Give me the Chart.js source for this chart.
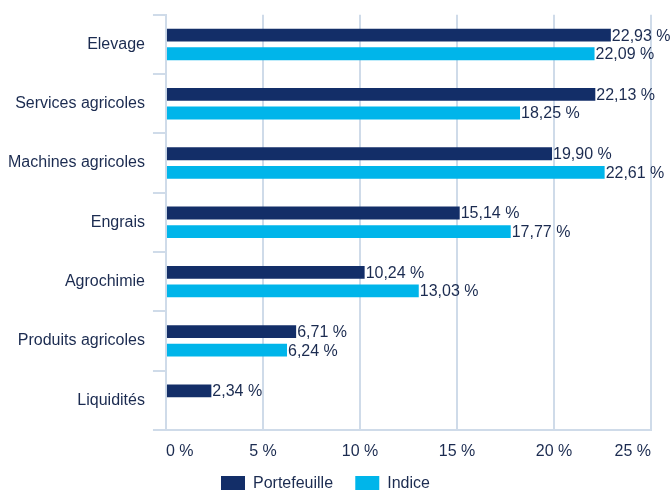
<!DOCTYPE html>
<html>
<head>
<meta charset="utf-8">
<script src="https://cdn.jsdelivr.net/npm/chart.js@4/dist/chart.umd.min.js"></script>
<style>
  html, body { margin: 0; padding: 0; background: #fff; }
  #wrap { width: 671px; height: 490px; }
</style>
</head>
<body>
<div id="wrap"><canvas id="chart"></canvas></div>
<script>
/* ── données ── */
const categories  = ['Elevage', 'Services agricoles', 'Machines agricoles', 'Engrais', 'Agrochimie', 'Produits agricoles', 'Liquidités'];
const portefeuille = [22.93, 22.13, 19.90, 15.14, 10.24, 6.71, 2.34];
const indice       = [22.09, 18.25, 22.61, 17.77, 13.03, 6.24, null];
const seriesNames  = ['Portefeuille', 'Indice'];

const NAVY = '#132e68';
const CYAN = '#00b5ea';
const TEXT = '#1b2b50';
const GRID = '#cfdbe9';
const FONT = { family: 'Liberation Sans, Arial, sans-serif', size: 16 };

const fmtPct = v => v.toFixed(2).replace('.', ',') + ' %';

/* étiquettes de valeur au bout des barres */
const valueLabels = {
  id: 'valueLabels',
  afterDatasetsDraw(chart) {
    const ctx = chart.ctx;
    ctx.save();
    ctx.font = `${FONT.size}px ${FONT.family}`;
    ctx.fillStyle = TEXT;
    ctx.textBaseline = 'middle';
    ctx.textAlign = 'left';
    chart.data.datasets.forEach((ds, i) => {
      chart.getDatasetMeta(i).data.forEach((bar, j) => {
        const v = ds.data[j];
        if (v == null) return;
        ctx.fillText(fmtPct(v), bar.x + 1, bar.y + 1);
      });
    });
    ctx.restore();
  }
};

new Chart(document.getElementById('chart'), {
  type: 'bar',
  data: {
    labels: categories,
    datasets: [
      { label: seriesNames[0], data: portefeuille, backgroundColor: NAVY },
      { label: seriesNames[1], data: indice,       backgroundColor: CYAN },
    ],
  },
  options: {
    indexAxis: 'y',
    responsive: true,
    maintainAspectRatio: false,
    animation: false,
    barPercentage: 0.69,
    categoryPercentage: 0.627,
    layout: { padding: { top: 4, right: 20, left: 0, bottom: -12 } },
    plugins: {
      tooltip: { enabled: false },
      legend: {
        position: 'bottom',
        labels: {
          boxWidth: 24,
          boxHeight: 16,
          padding: 3,
          color: TEXT,
          font: FONT,
          /* espace entre les deux entrées de la légende */
          generateLabels: chart => Chart.defaults.plugins.legend.labels.generateLabels(chart)
            .map((l, i) => i === 0 ? { ...l, text: l.text + '\u2003\u2009' } : l),
        },
      },
    },
    scales: {
      x: {
        min: 0,
        max: 25,
        ticks: {
          stepSize: 5,
          color: TEXT,
          font: FONT,
          padding: 12,
          align: 'inner',
          callback: v => v + ' %',
        },
        grid: { color: GRID, lineWidth: 2, drawTicks: false },
        border: { color: GRID, width: 2 },
      },
      y: {
        ticks: { color: TEXT, font: { ...FONT, lineHeight: 0.85 }, padding: 8 },
        grid: { color: GRID, lineWidth: 2, drawOnChartArea: false, tickLength: 13 },
        border: { color: GRID, width: 2 },
      },
    },
  },
  plugins: [valueLabels],
});
</script>
</body>
</html>
